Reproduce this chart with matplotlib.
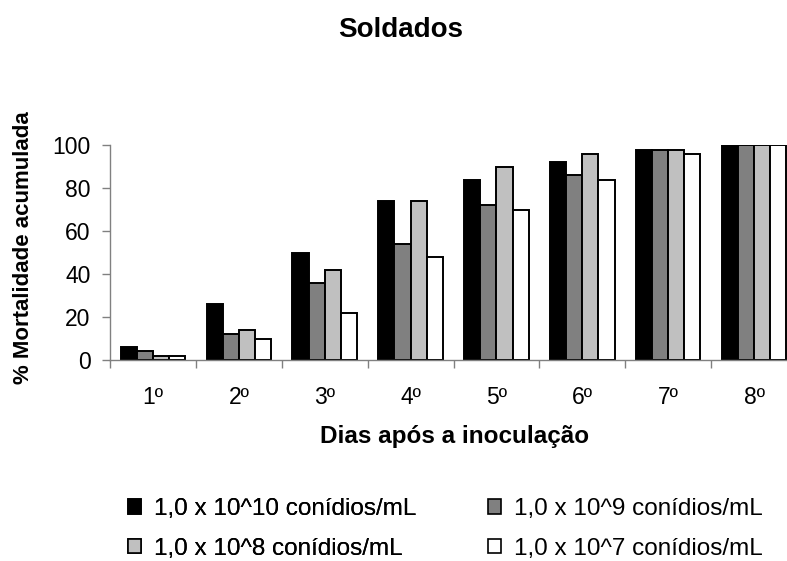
import matplotlib
matplotlib.use("Agg")
import matplotlib.pyplot as plt
from matplotlib.patches import Patch
import numpy as np

plt.rcParams["font.family"] = ["Liberation Sans", "DejaVu Sans"]

days = ["1º", "2º", "3º", "4º", "5º", "6º", "7º", "8º"]
series_labels = [
    "1,0 x 10^10 conídios/mL",
    "1,0 x 10^9 conídios/mL",
    "1,0 x 10^8 conídios/mL",
    "1,0 x 10^7 conídios/mL",
]
conc_1e10 = [6, 26, 50, 74, 84, 92, 98, 100]
conc_1e9 = [4, 12, 36, 54, 72, 86, 98, 100]
conc_1e8 = [2, 14, 42, 74, 90, 96, 98, 100]
conc_1e7 = [2, 10, 22, 48, 70, 84, 96, 100]
colors = ["#000000", "#808080", "#c0c0c0", "#ffffff"]

W, H = 787, 561
fig = plt.figure(figsize=(W / 100, H / 100), dpi=100)
ax = fig.add_axes([110 / W, 1 - 360 / H, 687 / W, (360 - 145.3) / H])

x = np.arange(len(days))
bw = 0.1875
all_series = [conc_1e10, conc_1e9, conc_1e8, conc_1e7]
for i, (vals, col) in enumerate(zip(all_series, colors)):
    ax.bar(x + (i - 1.5) * bw, vals, width=bw, color=col,
           edgecolor="black", linewidth=1.4, zorder=3)

ax.set_xlim(-0.5, len(days) - 0.5)
ax.set_ylim(0, 100)
ax.set_yticks([0, 20, 40, 60, 80, 100])
ax.set_xticks(x)
ax.set_xticklabels(days)
ax.set_xticks(np.arange(len(days) + 1) - 0.5, minor=True)
ax.tick_params(axis="x", which="major", length=0, pad=19, labelsize=16.5)
ax.tick_params(axis="x", which="minor", length=6, width=1, color="#808080",
               direction="out")
ax.tick_params(axis="y", length=6, width=1, color="#808080", labelsize=16.5,
               pad=8)
for s in ["top", "right"]:
    ax.spines[s].set_visible(False)
for s in ["left", "bottom"]:
    ax.spines[s].set_color("#808080")
    ax.spines[s].set_linewidth(1)
ax.spines["bottom"].set_zorder(4)

fig.text(401 / W, 1 - 30 / H, "Soldados", ha="center", va="center",
         fontsize=20, fontweight="bold")
fig.text(24 / W, 1 - 248 / H, "% Mortalidade acumulada", ha="center",
         va="center", rotation=90, fontsize=16, fontweight="bold")
fig.text(455 / W, 1 - 436 / H, "Dias após a inoculação", ha="center",
         va="center", fontsize=17.5, fontweight="bold")

handles = [Patch(facecolor=c, edgecolor="black", linewidth=1.2) for c in colors]
leg_kw = dict(loc="center left", frameon=False, fontsize=17.5,
              handlelength=0.55, handleheight=0.55, handletextpad=0.5,
              labelspacing=0.72, borderpad=0, borderaxespad=0)
col_left = fig.legend([handles[0], handles[2]],
                      [series_labels[0], series_labels[2]],
                      bbox_to_anchor=(128 / W, 1 - 529 / H), **leg_kw)
fig.add_artist(col_left)
fig.legend([handles[1], handles[3]], [series_labels[1], series_labels[3]],
           bbox_to_anchor=(488 / W, 1 - 529 / H), **leg_kw)

fig.savefig("out.png", dpi=100)
